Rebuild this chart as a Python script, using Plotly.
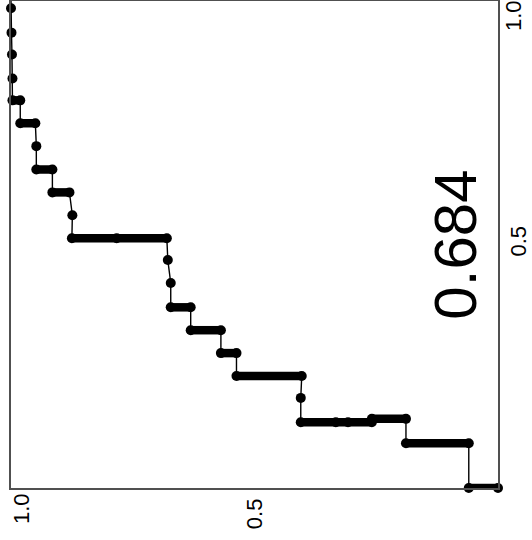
import plotly.graph_objects as go

# ROC-style step curve (drawn rotated): x = sensitivity (reversed), y = 1 - specificity
sens = [1.0, 1.0, 0.999, 0.998, 0.997, 0.997, 0.981, 0.981, 0.950, 0.948, 0.948, 0.915,
        0.915, 0.880, 0.874, 0.875, 0.783, 0.680, 0.678, 0.672, 0.672, 0.631, 0.631,
        0.569, 0.569, 0.537, 0.537, 0.403, 0.405, 0.405, 0.333, 0.308, 0.259, 0.259,
        0.189, 0.189, 0.060, 0.060, 0.0]
fpr = [1.0, 0.985, 0.935, 0.890, 0.841, 0.796, 0.796, 0.749, 0.749, 0.702, 0.654, 0.654,
       0.607, 0.607, 0.560, 0.513, 0.513, 0.513, 0.468, 0.421, 0.371, 0.371, 0.324,
       0.324, 0.277, 0.277, 0.230, 0.230, 0.185, 0.135, 0.135, 0.135, 0.135, 0.142,
       0.142, 0.092, 0.092, 0.0, 0.0]
auc_text = "0.684"
auc_pos = (0.088, 0.5)
x_tick_main = [0.5]
x_tick_end = [1.0]
y_tick_main = [0.5]
y_tick_end = [1.0]
tick_text = {0.5: "0.5", 1.0: "1.0"}

# horizontal runs (same y level) drawn as thick bars
run_x, run_y = [], []
for i in range(len(sens) - 1):
    if fpr[i] == fpr[i + 1] and sens[i] != sens[i + 1]:
        run_x += [sens[i], sens[i + 1], None]
        run_y += [fpr[i], fpr[i + 1], None]

fig = go.Figure()
fig.add_trace(go.Scatter(x=sens, y=fpr, mode="lines",
                         line=dict(color="#000000", width=1.4), hoverinfo="skip",
                         xaxis="x2", yaxis="y2"))
fig.add_trace(go.Scatter(x=run_x, y=run_y, mode="lines",
                         line=dict(color="#000000", width=8.5), hoverinfo="skip"))
fig.add_trace(go.Scatter(x=sens[1:], y=fpr[1:], mode="markers",
                         marker=dict(color="#000000", size=10), cliponaxis=False,
                         hoverinfo="skip"))

tick_font = dict(family="Liberation Sans, Arial, sans-serif", size=22, color="#000000")
frame = dict(showline=True, mirror=True, linecolor="#505050", linewidth=1.5,
             showgrid=False, zeroline=False, ticks="", automargin=False)
plain = dict(showline=False, showgrid=False, zeroline=False, ticks="", automargin=False,
             tickangle=-90, tickfont=tick_font, ticklabeloverflow="allow")

fig.update_layout(
    width=532, height=540,
    margin=dict(l=11, r=34, t=1, b=52),
    paper_bgcolor="white", plot_bgcolor="white",
    showlegend=False,
    xaxis=dict(range=[1, 0], tickvals=x_tick_main,
               ticktext=[tick_text[v] for v in x_tick_main],
               tickangle=-90, tickfont=tick_font, **frame),
    yaxis=dict(range=[0, 1], side="right", tickvals=y_tick_main,
               ticktext=[tick_text[v] for v in y_tick_main],
               tickangle=-90, tickfont=tick_font, **frame),
    xaxis2=dict(range=[1, 0], overlaying="x", side="bottom", anchor="y2",
                tickvals=x_tick_end, ticktext=[tick_text[v] for v in x_tick_end],
                ticklabelshift=-11, **plain),
    yaxis2=dict(range=[0, 1], overlaying="y", side="right", anchor="x2",
                tickvals=y_tick_end, ticktext=[tick_text[v] for v in y_tick_end],
                ticklabelshift=18, **plain),
    annotations=[dict(x=auc_pos[0], y=auc_pos[1], xref="x", yref="y", text=auc_text,
                      textangle=-90, showarrow=False, xanchor="center", yanchor="middle",
                      font=dict(family="Liberation Sans, Arial, sans-serif", size=60,
                                color="#000000"))],
)

fig.write_html("out.html", config={"displayModeBar": False},
               post_script="document.body.style.margin='0';")
